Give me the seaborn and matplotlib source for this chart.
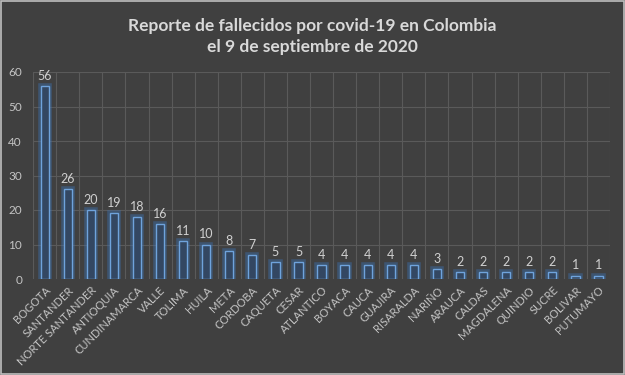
import matplotlib
matplotlib.use("Agg")
import matplotlib.pyplot as plt
import matplotlib.patheffects as pe
import seaborn as sns
import pandas as pd
import numpy as np

departamentos = ["BOGOTA", "SANTANDER", "NORTE SANTANDER", "ANTIOQUIA", "CUNDINAMARCA",
                 "VALLE", "TOLIMA", "HUILA", "META", "CORDOBA", "CAQUETA", "CESAR",
                 "ATLANTICO", "BOYACA", "CAUCA", "GUAJIRA", "RISARALDA", "NARIÑO",
                 "ARAUCA", "CALDAS", "MAGDALENA", "QUINDIO", "SUCRE", "BOLIVAR", "PUTUMAYO"]
fallecidos = [56, 26, 20, 19, 18, 16, 11, 10, 8, 7, 5, 5, 4, 4, 4, 4, 4, 3,
              2, 2, 2, 2, 2, 1, 1]

df = pd.DataFrame({"dep": departamentos, "n": fallecidos})

bg = "#404040"
sns.set_theme(style="dark")
plt.rcParams["font.family"] = ["Lato", "DejaVu Sans"]

fig = plt.figure(figsize=(6.25, 3.75), dpi=100, facecolor=bg)
ax = fig.add_axes([0.053, 0.256, 0.923, 0.552])
ax.set_facecolor(bg)

sns.barplot(data=df, x="dep", y="n", ax=ax, width=0.36, color="#2b466a",
            edgecolor="#6fa3dc", linewidth=1.0, zorder=3)
for p in ax.patches:
    p.set_path_effects([pe.Stroke(linewidth=4, foreground="#3b6fae", alpha=0.45), pe.Normal()])

for i, v in enumerate(fallecidos):
    ax.text(i, v + 1.2, str(v), ha="center", va="bottom", color="#d0d0d0", fontsize=9)

ax.set_ylim(0, 60)
ax.set_yticks(range(0, 61, 10))
ax.set_xlim(-0.5, len(departamentos) - 0.5)
ax.set_xticks(np.arange(len(departamentos)))
ax.set_xticklabels(departamentos, rotation=45, ha="right", rotation_mode="anchor")
ax.tick_params(colors="#c4c4c4", length=0)
ax.tick_params(axis="x", labelsize=8, pad=4)
ax.tick_params(axis="y", labelsize=8.5, pad=8)
ax.set_xlabel("")
ax.set_ylabel("")

# grid lines: horizontal at ticks, vertical between categories
for y in range(10, 61, 10):
    ax.axhline(y, color="#5a5a5a", lw=0.8, zorder=1)
for x in np.arange(-0.5, len(departamentos), 1.0):
    ax.axvline(x, color="#5a5a5a", lw=0.8, zorder=1)
for s in ax.spines.values():
    s.set_visible(False)

fig.text(0.5, 0.93, "Reporte de fallecidos por covid-19 en Colombia", ha="center",
         va="center", color="#d9d9d9", fontsize=12.5, fontweight="bold")
fig.text(0.5, 0.875, "el 9 de septiembre de 2020", ha="center",
         va="center", color="#d9d9d9", fontsize=12.5, fontweight="bold")

fig.patches.append(plt.Rectangle((0.002, 0.003), 0.996, 0.994, transform=fig.transFigure,
                                 fill=False, edgecolor="#bfbfbf", lw=1.2))

fig.savefig("out.png", dpi=100, facecolor=bg)
